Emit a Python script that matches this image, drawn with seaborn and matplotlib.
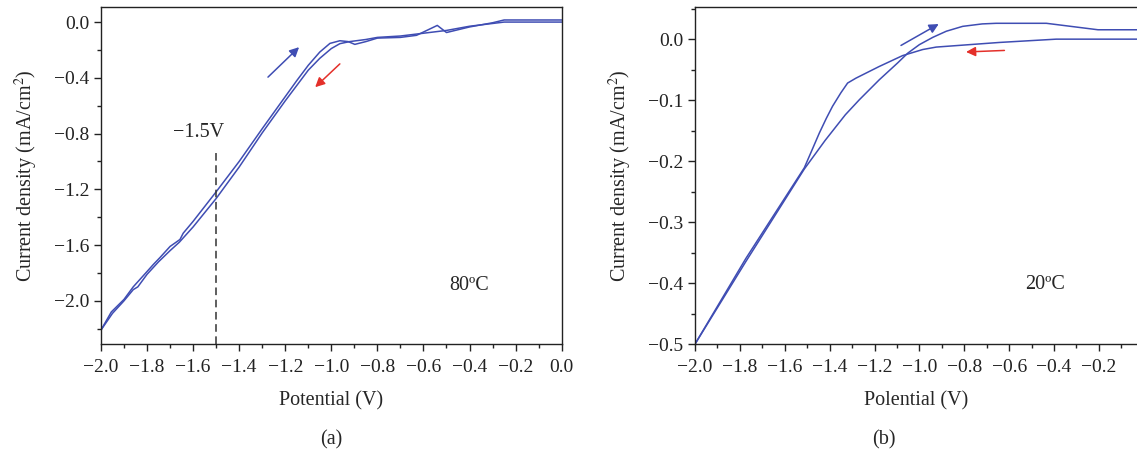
import numpy as np
import pandas as pd
import seaborn as sns
import matplotlib.pyplot as plt
from matplotlib.ticker import MultipleLocator

# (a) 80 C - forward and reverse scans
a_fwd_x = [-2.0, -1.955, -1.90, -1.86, -1.80, -1.773, -1.744, -1.70, -1.657, -1.643, -1.60, -1.50,
           -1.40, -1.30, -1.237, -1.15, -1.10, -1.05, -1.006, -0.963, -0.927, -0.898, -0.85, -0.80,
           -0.70, -0.63, -0.54, -0.50, -0.40, -0.30, -0.25, 0.0]
a_fwd_y = [-2.21, -2.08, -1.99, -1.90, -1.79, -1.74, -1.69, -1.61, -1.56, -1.515, -1.43, -1.218,
           -1.00, -0.765, -0.62, -0.42, -0.31, -0.215, -0.153, -0.134, -0.14, -0.16, -0.14, -0.115,
           -0.11, -0.095, -0.024, -0.075, -0.035, -0.005, 0.015, 0.015]
a_rev_x = [-2.0, -1.95, -1.90, -1.86, -1.84, -1.80, -1.75, -1.70, -1.66, -1.60, -1.50,
           -1.40, -1.30, -1.20, -1.10, -1.05, -1.00, -0.963, -0.92, -0.85, -0.80, -0.70, -0.60,
           -0.50, -0.40, -0.30, -0.25, 0.0]
a_rev_y = [-2.21, -2.09, -2.00, -1.92, -1.90, -1.81, -1.72, -1.64, -1.58, -1.47, -1.266,
           -1.04, -0.795, -0.565, -0.345, -0.26, -0.19, -0.155, -0.14, -0.125, -0.11, -0.10, -0.08,
           -0.06, -0.03, -0.01, 0.0, 0.0]

# (b) 20 C
b_fwd_x = [-2.0, -1.774, -1.513, -1.42, -1.33, -1.268, -1.179, -1.097, -1.052, -1.00,
           -0.94, -0.88, -0.807, -0.72, -0.658, -0.434, -0.204, 0.0]
b_fwd_y = [-0.5, -0.365, -0.213, -0.166, -0.124, -0.0995, -0.0667, -0.039, -0.023, -0.009,
           0.003, 0.013, 0.021, 0.025, 0.026, 0.026, 0.0154, 0.0154]
b_rev_x = [-2.0, -1.774, -1.513, -1.48, -1.446, -1.415, -1.387, -1.35, -1.32, -1.283, -1.18,
           -1.075, -0.985, -0.925, -0.643, -0.39, 0.0]
b_rev_y = [-0.5, -0.360, -0.211, -0.183, -0.154, -0.130, -0.110, -0.088, -0.072, -0.064, -0.045,
           -0.027, -0.017, -0.013, -0.0054, 0.0, 0.0]

blue = "#3f4db3"
red = "#e4302a"

sns.set_style("ticks")
plt.rcParams["font.family"] = ["Liberation Serif", "DejaVu Serif"]
plt.rcParams["mathtext.fontset"] = "stix"

fig = plt.figure(figsize=(11.37, 4.53), dpi=100)
ax1 = fig.add_axes([0.0888, 0.2406, 0.4052, 0.7439])
ax2 = fig.add_axes([0.6113, 0.2406, 0.3887, 0.7439])


def draw(ax, fx, fy, rx, ry):
    df = pd.concat([
        pd.DataFrame({"V": fx, "J": fy, "scan": "fwd"}),
        pd.DataFrame({"V": rx, "J": ry, "scan": "rev"}),
    ])
    sns.lineplot(data=df, x="V", y="J", units="scan", estimator=None, sort=False,
                 color=blue, lw=1.1, ax=ax, legend=False)


def style(ax):
    for s in ax.spines.values():
        s.set_color("#222222")
        s.set_linewidth(1.0)
    ax.tick_params(which="major", direction="out", length=5, width=1, labelsize=14,
                   colors="#222222")
    ax.tick_params(which="minor", direction="out", length=3, width=1, colors="#222222")
    ax.tick_params(axis="x", which="major", pad=6)
    ax.xaxis.set_major_locator(MultipleLocator(0.2))
    ax.xaxis.set_minor_locator(MultipleLocator(0.1))
    fmt = plt.FuncFormatter(lambda v, p: f"{v:.1f}".replace("-", "\u2212"))
    ax.xaxis.set_major_formatter(fmt)
    ax.yaxis.set_major_formatter(fmt)


def arrow(ax, x0, y0, x1, y1, c):
    ax.annotate("", xy=(x1, y1), xytext=(x0, y0),
                arrowprops=dict(arrowstyle="-|>", color=c, lw=1.1, mutation_scale=14,
                                shrinkA=0, shrinkB=0))


# panel (a)
draw(ax1, a_fwd_x, a_fwd_y, a_rev_x, a_rev_y)
style(ax1)
ax1.set_xlim(-2.0, 0.0)
ax1.set_ylim(-2.31, 0.108)
ax1.yaxis.set_major_locator(MultipleLocator(0.4))
ax1.yaxis.set_minor_locator(MultipleLocator(0.2))
ax1.plot([-1.5, -1.5], [-2.31, -0.93], ls=(0, (5, 3)), color="#333333", lw=1.1)
ax1.text(-1.575, -0.86, "\u22121.5V", ha="center", va="bottom", fontsize=14.5)
ax1.text(-0.40, -1.89, "80\u00baC", ha="center", va="center", fontsize=14.5)
arrow(ax1, -1.275, -0.395, -1.14, -0.18, blue)
arrow(ax1, -0.963, -0.30, -1.07, -0.467, red)
ax1.set_xlabel("Potential (V)", fontsize=14.5, labelpad=11)
ax1.set_ylabel("Current density (mA/cm$^2$)", fontsize=14.5, labelpad=10)
fig.text(0.2911, 0.03, "(a)", ha="center", va="center", fontsize=14.5)

# panel (b)
draw(ax2, b_fwd_x, b_fwd_y, b_rev_x, b_rev_y)
style(ax2)
ax2.set_xlim(-2.0, -0.03)
ax2.set_ylim(-0.5, 0.0527)
ax2.yaxis.set_major_locator(MultipleLocator(0.1))
ax2.yaxis.set_minor_locator(MultipleLocator(0.05))
ax2.spines["right"].set_visible(False)
ax2.text(-0.442, -0.403, "20\u00baC", ha="center", va="center", fontsize=14.5)
arrow(ax2, -1.082, -0.0103, -0.914, 0.0248, blue)
arrow(ax2, -0.621, -0.0185, -0.792, -0.021, red)
ax2.set_xlabel("Polential (V)", fontsize=14.5, labelpad=11)
ax2.set_ylabel("Current density (mA/cm$^2$)", fontsize=14.5, labelpad=10)
fig.text(0.7775, 0.03, "(b)", ha="center", va="center", fontsize=14.5)

fig.savefig("out.png", dpi=100)
